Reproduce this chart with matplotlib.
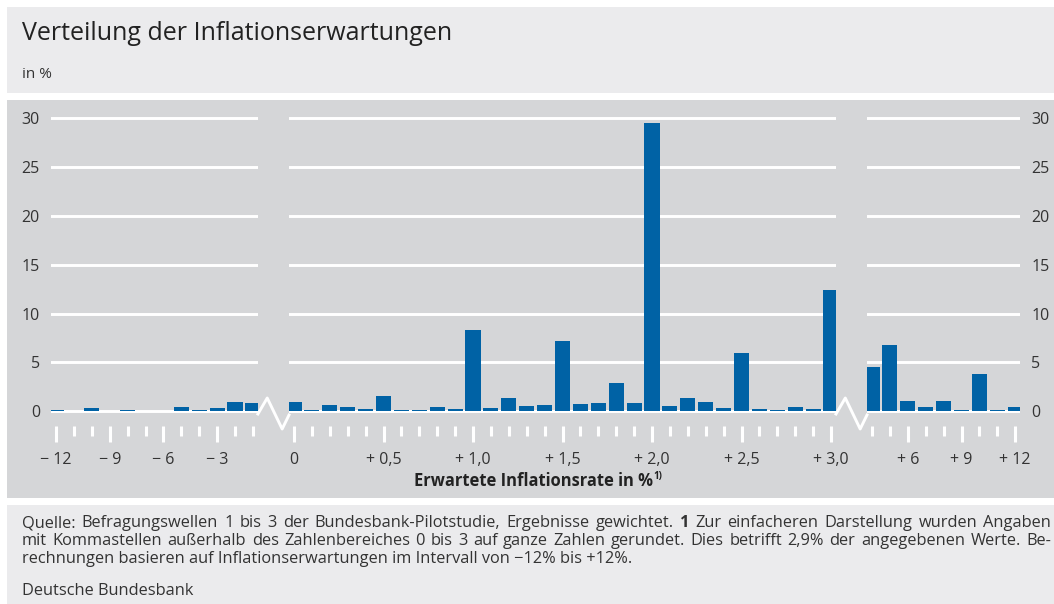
import matplotlib
matplotlib.use("Agg")
import matplotlib.pyplot as plt
from matplotlib.patches import Rectangle
from matplotlib.lines import Line2D
from matplotlib.transforms import Affine2D

plt.rcParams['font.family'] = ['Open Sans', 'DejaVu Sans']

W, H = 1054, 604

# --- data (share of answers in %) ---
neg_x = [-12, -11, -10, -9, -8, -7, -6, -5, -4, -3, -2, -1]
neg_y = [0.15, 0, 0.28, 0, 0.1, 0, 0.05, 0.45, 0.08, 0.3, 0.9, 0.8]

mid_x = [0.0, 0.1, 0.2, 0.3, 0.4, 0.5, 0.6, 0.7, 0.8, 0.9,
         1.0, 1.1, 1.2, 1.3, 1.4, 1.5, 1.6, 1.7, 1.8, 1.9,
         2.0, 2.1, 2.2, 2.3, 2.4, 2.5, 2.6, 2.7, 2.8, 2.9, 3.0]
mid_y = [0.9, 0.14, 0.59, 0.41, 0.2, 1.52, 0.1, 0.12, 0.38, 0.17,
         8.26, 0.31, 1.34, 0.52, 0.59, 7.14, 0.72, 0.83, 2.86, 0.79,
         29.5, 0.55, 1.38, 0.93, 0.34, 5.93, 0.2, 0.14, 0.38, 0.17, 12.42]

pos_x = [4, 5, 6, 7, 8, 9, 10, 11, 12]
pos_y = [4.48, 6.79, 1.0, 0.41, 1.07, 0.14, 3.79, 0.1, 0.38]

neg_ticks = [-12, -9, -6, -3]
neg_labels = ['\u2212 12', '\u2212 9', '\u2212 6', '\u2212 3']
mid_ticks = [0.0, 0.5, 1.0, 1.5, 2.0, 2.5, 3.0]
mid_labels = ['0', '+ 0,5', '+ 1,0', '+ 1,5', '+ 2,0', '+ 2,5', '+ 3,0']
pos_ticks = [6, 9, 12]
pos_labels = ['+ 6', '+ 9', '+ 12']
y_ticks = [0, 5, 10, 15, 20, 25, 30]

title = 'Verteilung der Inflationserwartungen'
unit = 'in %'
xlabel = 'Erwartete Inflationsrate in %'
foot1 = ('Quelle: Befragungswellen 1 bis 3 der Bundesbank-Pilotstudie, Ergebnisse gewichtet. '
         '1 Zur einfacheren Darstellung wurden Angaben')
foot2 = ('mit Kommastellen au\u00dferhalb des Zahlenbereiches 0 bis 3 auf ganze Zahlen gerundet. '
         'Dies betrifft 2,9% der angegebenen Werte. Be-')
foot3 = 'rechnungen basieren auf Inflationserwartungen im Intervall von \u221212% bis +12%.'
source = 'Deutsche Bundesbank'

BLUE = '#0062a5'
TXT = '#333333'

fig = plt.figure(figsize=(W / 100, H / 100), dpi=100)
# pixel coords measured from the top-left corner
px = Affine2D().scale(1 / W, -1 / H).translate(0, 1) + fig.transFigure

for y0, y1, c in [(7, 93, '#ebebed'), (100, 498, '#d5d6d8'), (505, 604, '#ebebed')]:
    fig.patches.append(Rectangle((7, y0), W - 7, y1 - y0, transform=px,
                                 facecolor=c, edgecolor='none', zorder=-10))

# axes geometry (pixels)
slot = 17.9
y_zero, y_30 = 411, 118.5
ax_top, ax_bot = 108, 426
ppu = (y_zero - y_30) / 30
ylim = (-(ax_bot - y_zero) / ppu, 30 + (y_30 - ax_top) / ppu)


def make_ax(x_first, step, xs, ys, ticks, labels):
    n = len(xs) - 1
    left = x_first - 5
    width = n * slot + 10
    ax = fig.add_axes([left / W, 1 - ax_bot / H, width / W, (ax_bot - ax_top) / H])
    ax.patch.set_visible(False)
    pad = 5 / slot * step
    ax.set_xlim(xs[0] - pad, xs[-1] + pad)
    ax.set_ylim(*ylim)
    ax.bar(xs, ys, width=0.84 * step, color=BLUE, zorder=3)
    ax.set_yticks(y_ticks)
    ax.grid(axis='y', color='white', linewidth=2.1)
    ax.set_axisbelow(True)
    for s in ax.spines.values():
        s.set_visible(False)
    ax.set_xticks(ticks)
    ax.set_xticklabels(labels)
    ax.set_xticks([x for x in xs if x not in ticks], minor=True)
    ax.tick_params(axis='x', which='major', direction='out', length=11.5, width=2.2,
                   color='white', pad=7, labelsize=11.5, labelcolor=TXT)
    ax.tick_params(axis='x', which='minor', direction='out', length=7.2, width=2.2,
                   color='white')
    ax.tick_params(axis='y', length=0, pad=8, labelsize=11.5, labelcolor=TXT)
    return ax


ax_l = make_ax(56, 1, neg_x, neg_y, neg_ticks, neg_labels)
ax_m = make_ax(294, 0.1, mid_x, mid_y, mid_ticks, mid_labels)
ax_r = make_ax(872, 1, pos_x, pos_y, pos_ticks, pos_labels)
ax_m.tick_params(axis='y', labelleft=False)
ax_r.yaxis.tick_right()

# axis break marks on the zero line
for a, b in [(ax_l, ax_m), (ax_m, ax_r)]:
    xa = a.get_position().x1 * W
    xb = b.get_position().x0 * W
    g = xb - xa
    xs = [xa + f * g for f in (0.0, 0.3, 0.78, 1.0)]
    ys = [y_zero + d for d in (3, -13, 18, 4)]
    fig.lines.append(Line2D(xs, ys, transform=px, color='white', linewidth=2.1))

t_title = fig.text(22, 33, title, transform=px, va='center', fontsize=16, color='#222222')
fig.text(22, 75, unit, transform=px, va='center', fontsize=11, color=TXT)
t_xl = fig.text(533, 481, xlabel, transform=px, ha='center', va='center',
                fontsize=10.5, weight='bold', color='#222222')

fig.canvas.draw()
r = fig.canvas.get_renderer()


def fit(t, target):
    w = t.get_window_extent(r).width
    t.set_fontsize(t.get_fontsize() * target / w)


fit(t_title, 431)
fit(t_xl, 240)
fig.canvas.draw()
bb = t_xl.get_window_extent(r)
fig.text(bb.x1 + 1, 476, '1)', transform=px, va='center', fontsize=7,
         weight='bold', color='#222222')

# footer text, first two lines justified
t3 = fig.text(22, 559, foot3, transform=px, va='center', fontsize=10, color=TXT)
fit(t3, 608)
fsize = t3.get_fontsize()
fig.text(22, 591, source, transform=px, va='center', fontsize=fsize, color=TXT)


def justify(line, y, x0=22, x1=1051, bold=()):
    words = line.split(' ')
    ts = [fig.text(0, y, w, transform=px, va='center', fontsize=fsize, color=TXT,
                   weight='bold' if i in bold else 'normal')
          for i, w in enumerate(words)]
    ws = [t.get_window_extent(r).width for t in ts]
    gap = (x1 - x0 - sum(ws)) / (len(ts) - 1)
    x = x0
    for t, w in zip(ts, ws):
        t.set_x(x)
        x += w + gap


justify(foot1, 523, bold=(9,))
justify(foot2, 541)

fig.savefig('out.png', dpi=100)
